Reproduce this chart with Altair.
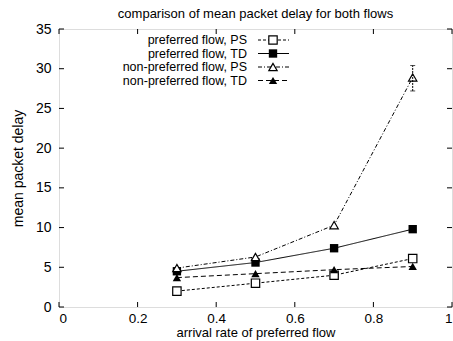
import altair as alt
import pandas as pd

x_vals = [0.3, 0.5, 0.7, 0.9]
pref_ps = [2.0, 3.0, 4.0, 6.1]
pref_td = [4.5, 5.6, 7.4, 9.8]
nonpref_ps = [4.9, 6.3, 10.3, 28.9]
nonpref_td = [3.7, 4.2, 4.7, 5.1]
err_x = [0.9]
err_low = [27.2]
err_high = [30.4]

series_names = ["preferred flow, PS", "preferred flow, TD",
                "non-preferred flow, PS", "non-preferred flow, TD"]
series_vals = [pref_ps, pref_td, nonpref_ps, nonpref_td]
shapes = ["square", "square", "triangle-up", "triangle-up"]
filled = [False, True, False, True]
dashes = [[3, 2], [1, 0], [4, 2, 1, 2], [5, 3]]

x_ticks = [0, 0.2, 0.4, 0.6, 0.8, 1]
y_ticks = [0, 5, 10, 15, 20, 25, 30, 35]

W, H = 393, 278
FONT = "Liberation Sans"

xs = alt.Scale(domain=[0, 1], nice=False)
ys = alt.Scale(domain=[0, 35], nice=False)
xax = alt.Axis(values=x_ticks, format="~g", tickSize=0, domain=False, grid=False,
               labelFontSize=13.5, labelPadding=4, titleFontSize=13,
               titleFontWeight="normal", titlePadding=2, labelFont=FONT, titleFont=FONT,
               labelColor="black", titleColor="black")
yax = alt.Axis(values=y_ticks, tickSize=0, domain=False, grid=False,
               labelFontSize=14, labelPadding=8, titleFontSize=14,
               titleFontWeight="normal", titlePadding=10, labelFont=FONT, titleFont=FONT,
               labelColor="black", titleColor="black")
XT = "arrival rate of preferred flow"
YT = "mean packet delay"


def X(field="x"):
    return alt.X(f"{field}:Q", scale=xs, axis=xax, title=XT)


def Y(field="y"):
    return alt.Y(f"{field}:Q", scale=ys, axis=yax, title=YT)


layers = []
for i, name in enumerate(series_names):
    df = pd.DataFrame({"x": x_vals, "y": series_vals[i]})
    line = alt.Chart(df).mark_line(color="black", strokeWidth=1, strokeDash=dashes[i]).encode(
        x=X(), y=Y())
    pts = alt.Chart(df).mark_point(shape=shapes[i], filled=filled[i], color="black",
                                   fill="black" if filled[i] else "white",
                                   opacity=1, size=70, strokeWidth=1.2).encode(x=X(), y=Y())
    layers += [line, pts]

# error bar
edf = pd.DataFrame({"x": err_x, "y": err_low, "y2": err_high})
layers.append(alt.Chart(edf).mark_rule(color="black", strokeWidth=1, strokeDash=[2, 1]).encode(
    x=X(), y=Y(), y2="y2:Q"))
layers.append(alt.Chart(edf).mark_tick(color="black", thickness=1, size=5, orient="horizontal").encode(
    x=X(), y=Y()))
layers.append(alt.Chart(edf).mark_tick(color="black", thickness=1, size=5, orient="horizontal").encode(
    x=X(), y=Y("y2")))

# inward ticks on all four sides
xt = pd.DataFrame({"x": x_ticks})
yt = pd.DataFrame({"y": y_ticks})
T = 5
layers.append(alt.Chart(xt).mark_rule(color="black", strokeWidth=1).encode(
    x=X(), y=alt.value(H), y2=alt.value(H - T)))
layers.append(alt.Chart(xt).mark_rule(color="black", strokeWidth=1).encode(
    x=X(), y=alt.value(0), y2=alt.value(T)))
layers.append(alt.Chart(yt).mark_rule(color="black", strokeWidth=1).encode(
    y=Y(), x=alt.value(0), x2=alt.value(T)))
layers.append(alt.Chart(yt).mark_rule(color="black", strokeWidth=1).encode(
    y=Y(), x=alt.value(W), x2=alt.value(W - T)))

# legend (gnuplot style: label, then sample)
row_y = [11, 24.5, 38, 51.5]
for i, name in enumerate(series_names):
    ldf = pd.DataFrame({"label": [name]})
    layers.append(alt.Chart(ldf).mark_text(align="right", baseline="middle", fontSize=12.5,
                                           font=FONT, color="black").encode(
        text="label:N", x=alt.value(188), y=alt.value(row_y[i])))
    layers.append(alt.Chart(ldf).mark_rule(color="black", strokeWidth=1, strokeDash=dashes[i]).encode(
        x=alt.value(199), x2=alt.value(230), y=alt.value(row_y[i])))
    layers.append(alt.Chart(ldf).mark_point(shape=shapes[i], filled=filled[i], color="black",
                                            fill="black" if filled[i] else "white",
                                            opacity=1, size=70, strokeWidth=1.2).encode(
        x=alt.value(214), y=alt.value(row_y[i])))

chart = alt.layer(*layers).properties(
    width=W, height=H,
    title=alt.TitleParams("comparison of mean packet delay for both flows", fontSize=13,
                          fontWeight="normal", font=FONT, color="black", anchor="middle",
                          offset=1),
    autosize=alt.AutoSizeParams(type="none"),
    padding={"left": 59, "top": 29, "right": 1, "bottom": 34},
).configure_view(stroke="black", strokeWidth=1.2).configure(background="white")

chart.save("out.html", embed_options={"renderer": "svg", "actions": False})
